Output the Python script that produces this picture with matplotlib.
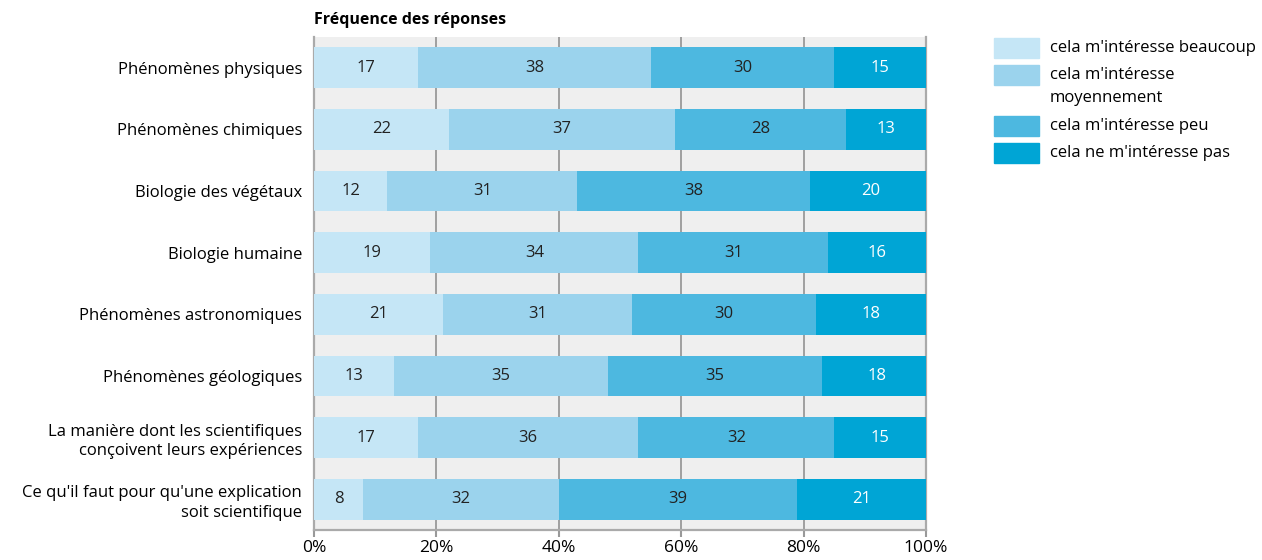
import matplotlib
matplotlib.use('Agg')
import matplotlib.pyplot as plt
from matplotlib.patches import Rectangle
import numpy as np

plt.rcParams['font.family'] = ['Open Sans', 'DejaVu Sans']

# --- données ---
categories = [
    "Phénomènes physiques",
    "Phénomènes chimiques",
    "Biologie des végétaux",
    "Biologie humaine",
    "Phénomènes astronomiques",
    "Phénomènes géologiques",
    "La manière dont les scientifiques\nconçoivent leurs expériences",
    "Ce qu'il faut pour qu'une explication\nsoit scientifique",
]
beaucoup = [17, 22, 12, 19, 21, 13, 17, 8]
moyennement = [38, 37, 31, 34, 31, 35, 36, 32]
peu = [30, 28, 38, 31, 30, 35, 32, 39]
pas = [15, 13, 20, 16, 18, 18, 15, 21]

series_labels = ["cela m'intéresse beaucoup", "cela m'intéresse\nmoyennement",
                 "cela m'intéresse peu", "cela ne m'intéresse pas"]
couleurs = ['#c5e6f6', '#9bd3ed', '#4db8e0', '#00a5d5']
couleurs_texte = ['#222222', '#222222', '#222222', 'white']
ticks = [0, 20, 40, 60, 80, 100]

W, H = 1262, 560
fig = plt.figure(figsize=(W / 100, H / 100), dpi=100)
ax = fig.add_axes([314 / W, 30 / H, 612 / W, 493 / H])
ax.set_facecolor('#efefef')

y = np.arange(len(categories))
gauche = np.zeros(len(categories))
for vals, col, tcol in zip([beaucoup, moyennement, peu, pas], couleurs, couleurs_texte):
    bars = ax.barh(y, vals, left=gauche, height=0.66, color=col, zorder=3)
    for b, v in zip(bars, vals):
        ax.text(b.get_x() + b.get_width() / 2, b.get_y() + b.get_height() / 2, str(v),
                ha='center', va='center', fontsize=12, color=tcol, zorder=4)
    gauche += np.array(vals)

ax.set_xlim(0, 100)
ax.set_ylim(len(categories) - 0.5, -0.5)
ax.set_xticks(ticks)
ax.set_xticklabels([f"{t}%" for t in ticks], fontsize=12.5)
ax.set_yticks(y)
ax.set_yticklabels(categories, fontsize=12, linespacing=1.3)
ax.tick_params(axis='y', length=0, pad=8.5)
ax.tick_params(axis='x', length=5, width=1.5, color='#999999', pad=2.5)
ax.xaxis.grid(True, color='#9f9f9f', linewidth=1.4, zorder=1)
for s in ['left', 'right', 'bottom']:
    ax.spines[s].set_color('#aaaaaa')
    ax.spines[s].set_linewidth(1.6)
ax.spines['top'].set_visible(False)
ax.set_axisbelow(True)

ax.text(0, 1.018, "Fréquence des réponses", transform=ax.transAxes,
        fontsize=11.5, fontweight='bold', ha='left', va='bottom')

# légende dessinée à la main (carré aligné sur la première ligne)
haut = 38
for lab, col in zip(series_labels, couleurs):
    fig.patches.append(Rectangle((994 / W, 1 - (haut + 20) / H), 45 / W, 20 / H,
                                 transform=fig.transFigure, color=col))
    lignes = lab.split('\n')
    for i, ligne in enumerate(lignes):
        fig.text(1050 / W, 1 - (haut + 10 + 23 * i) / H, ligne, fontsize=12,
                 ha='left', va='center')
    haut += 27 + 24 * (len(lignes) - 1)

plt.savefig('out.png', dpi=100)
plt.close()
